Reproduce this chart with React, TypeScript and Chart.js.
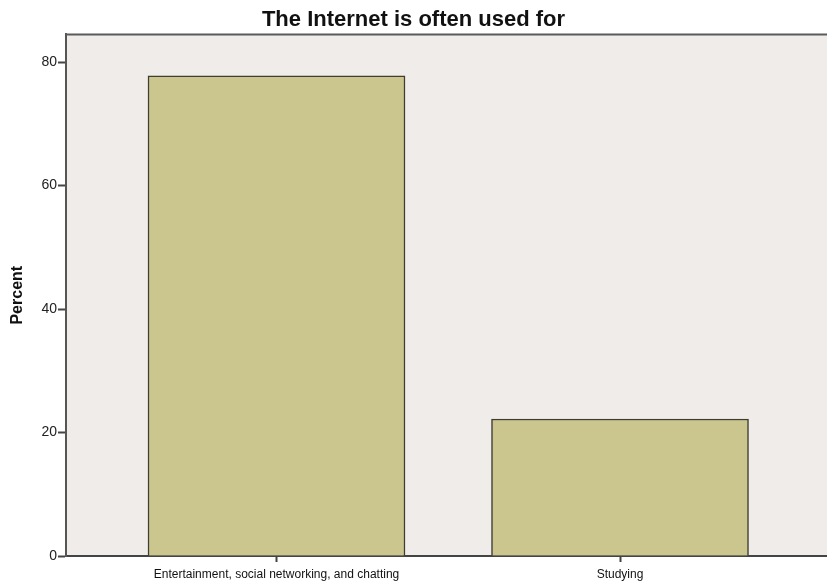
import React, { useEffect, useRef } from "react";
import { Chart, registerables } from "chart.js";

Chart.register(...registerables);

const categories: string[] = ["Entertainment, social networking, and chatting", "Studying"];
const percentValues: number[] = [77.8, 22.2];
const yTickValues: number[] = [0, 20, 40, 60, 80];
const chartTitle = "The Internet is often used for";
const yAxisTitle = "Percent";

const FONT = "'Liberation Sans', Arial, sans-serif";

const plotFrame = {
  id: "plotFrame",
  beforeDraw(chart: any) {
    const { ctx, chartArea } = chart;
    ctx.save();
    ctx.fillStyle = "#F0ECE9";
    ctx.fillRect(chartArea.left, chartArea.top, chartArea.right - chartArea.left, chartArea.bottom - chartArea.top);
    ctx.restore();
  },
  afterDraw(chart: any) {
    const { ctx, chartArea } = chart;
    ctx.save();
    ctx.strokeStyle = "#5a5a5a";
    ctx.lineWidth = 2;
    ctx.beginPath();
    ctx.moveTo(chartArea.left, chartArea.top);
    ctx.lineTo(chartArea.right, chartArea.top);
    ctx.stroke();
    ctx.restore();
  },
};

export default function App() {
  const ref = useRef<HTMLCanvasElement | null>(null);
  useEffect(() => {
    if (!ref.current) return;
    const chart = new Chart(ref.current, {
      type: "bar",
      data: {
        datasets: [
          {
            label: yAxisTitle,
            data: categories.map((c, i) => ({ x: i, y: percentValues[i] })),
            backgroundColor: "#CBC68E",
            borderColor: "#3d3d30",
            borderWidth: 1.5,
            barThickness: 257,
          },
        ],
      },
      options: {
        responsive: false,
        animation: false,
        layout: { padding: { top: 2, right: 0, bottom: 0, left: 0 } },
        plugins: {
          legend: { display: false },
          tooltip: { enabled: false },
          title: {
            display: true,
            text: chartTitle,
            color: "#111",
            font: { family: FONT, size: 22, weight: "bold" },
            padding: { top: 5, bottom: 1 },
          },
        },
        scales: {
          x: {
            type: "linear",
            offset: false,
            min: -0.6128,
            max: 1.6026,
            afterBuildTicks: (scale: any) => {
              scale.ticks = categories.map((_, i) => ({ value: i }));
            },
            afterFit: (scale: any) => {
              scale.height = 31;
            },
            ticks: {
              callback: (v: any) => categories[Number(v)] ?? "",
              color: "#111",
              font: { family: FONT, size: 12 },
              padding: 5,
              maxRotation: 0,
              autoSkip: false,
            },
            grid: { offset: false, drawOnChartArea: false, drawTicks: true, tickLength: 6, color: "#444", tickWidth: 2 },
            border: { color: "#444", width: 2 },
          },
          y: {
            min: 0,
            max: 84.5,
            afterBuildTicks: (scale: any) => {
              scale.ticks = yTickValues.map((v) => ({ value: v }));
            },
            afterFit: (scale: any) => {
              scale.width = 66;
            },
            ticks: {
              color: "#222",
              font: { family: FONT, size: 14 },
              padding: 1,
            },
            grid: { drawOnChartArea: false, drawTicks: true, tickLength: 8, color: "#444", tickWidth: 2 },
            border: { color: "#555", width: 2 },
            title: {
              display: true,
              text: yAxisTitle,
              color: "#111",
              font: { family: FONT, size: 16, weight: "bold" },
              padding: { top: 8, bottom: 0 },
            },
          },
        },
      },
      plugins: [plotFrame],
    } as any);
    return () => chart.destroy();
  }, []);
  return (
    <div style={{ position: "absolute", left: 0, top: 0, width: 827, height: 587, background: "#fff" }}>
      <canvas ref={ref} width={827} height={587} style={{ display: "block" }} />
    </div>
  );
}
